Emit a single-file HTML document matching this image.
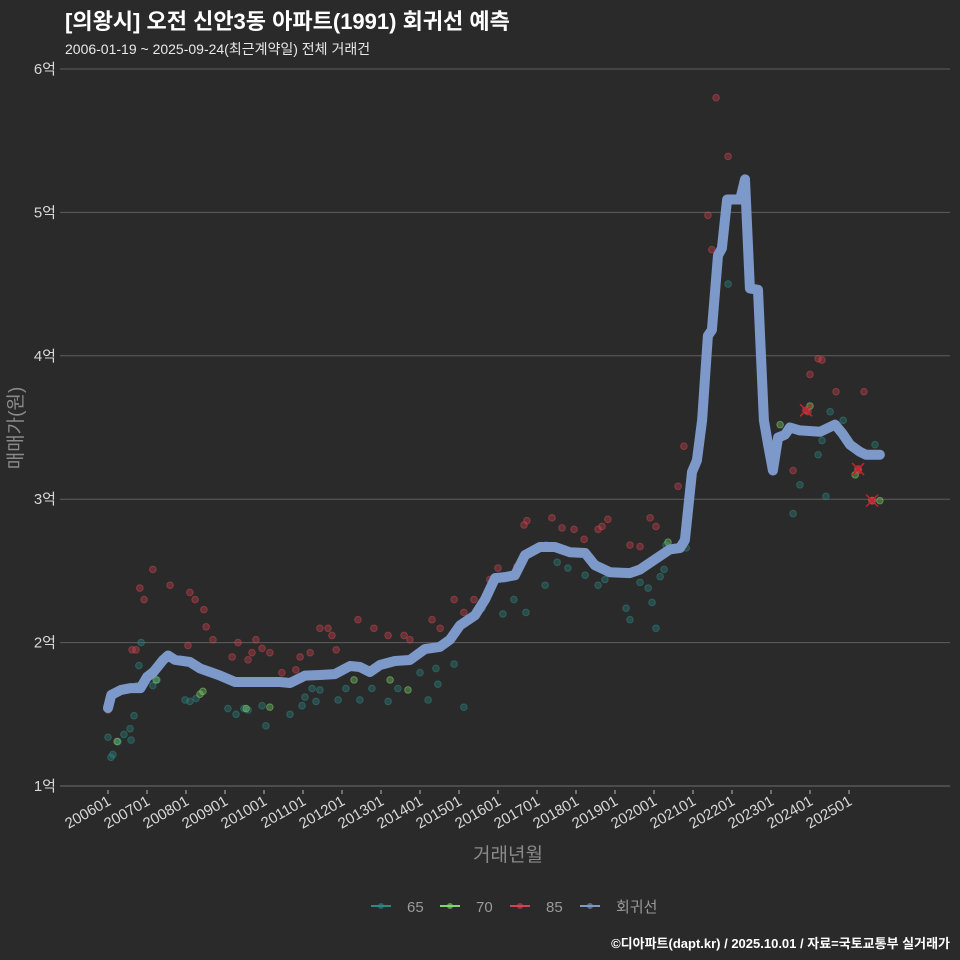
<!DOCTYPE html>
<html><head><meta charset="utf-8"><style>
html,body{margin:0;padding:0;background:#2b2a2b;}
svg{display:block;font-family:"Liberation Sans","Noto Sans CJK KR",sans-serif;}
</style></head><body>
<svg id="chart" width="960" height="960" viewBox="0 0 960 960">
<rect x="0" y="0" width="960" height="960" fill="#2b2a2b"/>
<text x="65" y="29" fill="#ffffff" font-size="22" font-weight="bold">[의왕시] 오전 신안3동 아파트(1991) 회귀선 예측</text>
<text x="65" y="54" fill="#e8e8e8" font-size="14">2006-01-19 ~ 2025-09-24(최근계약일) 전체 거래건</text>
<g id="grid"></g>
<g id="marks"></g>
<text x="22" y="428" fill="#8a8a8a" font-size="19" text-anchor="middle" transform="rotate(-90 22 428)">매매가(원)</text>
<text x="508" y="861" fill="#8a8a8a" font-size="19" text-anchor="middle">거래년월</text>
<g id="legend"></g>
<text x="950" y="948" fill="#ffffff" font-size="13" font-weight="bold" text-anchor="end">©디아파트(dapt.kr) / 2025.10.01 / 자료=국토교통부 실거래가</text>
</svg>
<script>
// months since 2006-01, values in 억
const yTicks = [1,2,3,4,5,6];
const xTickLabels = ["200601","200701","200801","200901","201001","201101","201201","201301","201401","201501","201601","201701","201801","201901","202001","202101","202201","202301","202401","202501"];
const lineMonths = [0,1,4,7,10,12,14,17,18.5,20.6,25.2,28.3,31.4,34.5,39.1,43.7,48.3,52.9,56,60.6,65.2,69.8,74.5,77.5,80.6,83.7,88.3,92.9,97.5,102.1,105.2,108.3,112.9,116,119.1,122.2,125.2,128.3,132.9,137.5,142.2,146.8,149.8,154.5,160.6,163.7,168.3,172.9,176,177.5,179.7,181.2,182.8,184.6,185.8,187.7,188.9,190.5,194.5,196,197.5,200,201.8,203.1,204.6,206.2,208.3,209.8,212.9,219.1,223.7,225.9,228.3,231.4,233.2,237.5];
const lineValues = [1.544,1.635,1.67,1.683,1.683,1.76,1.795,1.88,1.91,1.88,1.865,1.82,1.795,1.77,1.725,1.725,1.725,1.725,1.718,1.77,1.774,1.78,1.837,1.83,1.795,1.844,1.872,1.879,1.955,1.97,2.02,2.12,2.19,2.30,2.45,2.457,2.47,2.61,2.667,2.667,2.63,2.625,2.54,2.49,2.485,2.51,2.58,2.65,2.66,2.715,3.19,3.27,3.55,4.14,4.18,4.70,4.75,5.09,5.09,5.23,4.47,4.46,3.55,3.38,3.20,3.43,3.45,3.50,3.48,3.47,3.52,3.46,3.38,3.33,3.31,3.31];
const s65Months = [0,0.9,1.5,3.1,4.9,6.8,7.1,8,8.9,9.5,10.2,13.8,15.1,23.7,25.2,27.1,36.9,39.4,41.8,43.1,47.4,48.6,56,59.7,60.6,62.8,64,65.2,70.8,73.2,77.5,81.2,86.2,89.2,96,98.5,100.9,101.5,106.5,109.5,115.1,121.5,124.9,128.6,134.5,138.2,141.5,146.8,150.8,152.9,159.4,160.6,163.7,166.2,167.4,168.6,169.9,171.1,171.7,177.9,190.8,210.8,212.9,218.5,219.7,220.9,222.2,226.2,236];
const s65Values = [1.34,1.20,1.22,1.31,1.36,1.40,1.32,1.49,1.70,1.84,2.00,1.70,1.74,1.60,1.59,1.61,1.54,1.50,1.54,1.53,1.56,1.42,1.50,1.56,1.62,1.68,1.59,1.67,1.60,1.68,1.60,1.68,1.59,1.68,1.79,1.60,1.82,1.71,1.85,1.55,2.24,2.20,2.30,2.21,2.40,2.56,2.52,2.47,2.40,2.44,2.24,2.16,2.42,2.38,2.28,2.10,2.46,2.51,2.68,2.66,4.50,2.90,3.10,3.31,3.41,3.02,3.61,3.55,3.38];
const s70Months = [2.8,14.8,28.3,29.2,42.5,49.8,75.7,86.8,92.3,172.3,206.8,216,229.9,237.5];
const s70Values = [1.31,1.74,1.64,1.66,1.54,1.55,1.74,1.74,1.67,2.70,3.52,3.65,3.17,2.99];
const s85Months = [0,7.4,8.6,9.8,11.1,13.8,19.1,25.2,26.8,29.5,30.2,24.6,32.3,38.2,40,43.1,44.3,45.5,47.4,49.8,53.5,57.8,59.1,62.2,65.2,67.7,68.9,70.2,76.9,81.8,86.2,91.1,92.9,99.7,102.2,106.5,109.5,112.6,117.5,120,125.8,128,128.9,134.8,136.6,139.7,143.4,146.5,150.8,152,153.8,160.6,163.7,166.8,168.6,175.4,177.2,184.6,185.8,187.1,190.8,210.8,215.4,216,218.5,219.7,224,232.6,230.8,235.1];
const s85Values = [1.53,1.95,1.95,2.38,2.30,2.51,2.40,2.35,2.30,2.23,2.11,1.98,2.02,1.90,2.00,1.88,1.93,2.02,1.96,1.93,1.79,1.81,1.90,1.93,2.10,2.10,2.05,1.95,2.16,2.10,2.05,2.05,2.02,2.16,2.10,2.30,2.21,2.30,2.44,2.52,2.53,2.82,2.85,2.68,2.87,2.80,2.79,2.72,2.79,2.81,2.86,2.68,2.67,2.87,2.81,3.09,3.37,4.98,4.74,5.80,5.39,3.20,3.61,3.87,3.98,3.97,3.75,3.75,3.20,2.99];
const recentMonths = [214.8,230.8,235.1];
const recentValues = [3.62,3.21,2.99];

const NS = "http://www.w3.org/2000/svg";
const X0 = 108, PX_PER_MONTH = 39/12;
const Y1 = 786, PX_PER_UNIT = 143.4;
function xs(m){ return X0 + m*PX_PER_MONTH; }
function ys(v){ return Y1 - (v-1)*PX_PER_UNIT; }
function mk(tag, attrs, parent){ const e=document.createElementNS(NS,tag); for(const k in attrs) e.setAttribute(k, attrs[k]); parent.appendChild(e); return e; }

const grid = document.getElementById('grid');
yTicks.forEach(v=>{
  const y = ys(v);
  const gl = mk('line',{x1:60,x2:950,y1:y,y2:y,stroke:v===1?'#6e6e6e':'#5e5e5e','stroke-width':1},grid);
  
  
  const t = mk('text',{x:56,y:y+5,fill:'#d8d8d8','font-size':15,'text-anchor':'end'},grid);
  t.textContent = v+'억';
  
  
});
xTickLabels.forEach((lab,i)=>{
  const x = xs(i*12);
  const tk = mk('line',{x1:x,x2:x,y1:790,y2:794,stroke:'#bbbbbb','stroke-width':1},grid);
  
  
  const t = mk('text',{x:x+4,y:804,fill:'#d8d8d8','font-size':15,'text-anchor':'end',transform:`rotate(-30 ${x+4} 804)`},grid);
  t.textContent = lab;
  
  
});

const marks = document.getElementById('marks');
function scatter(ms, vs, color, name){
  const g = mk('g',{},marks);
  
  
  ms.forEach((m,i)=>{
    const c = mk('circle',{cx:xs(m),cy:ys(vs[i]),r:3.3,fill:color,'fill-opacity':0.35,stroke:color,'stroke-opacity':0.5,'stroke-width':1},g);
    
    
  });
}
scatter(s65Months,s65Values,'#2a8a84','series-65');
scatter(s70Months,s70Values,'#7fd86a','series-70');
scatter(s85Months,s85Values,'#d0464e','series-85');

const path = lineMonths.map((m,i)=>(i?'L':'M')+xs(m).toFixed(1)+' '+ys(lineValues[i]).toFixed(1)).join(' ');
const ln = mk('path',{d:path,fill:'none',stroke:'#7c99c9','stroke-width':10,'stroke-linejoin':'round','stroke-linecap':'round'},marks);



recentMonths.forEach((m,i)=>{
  const x=xs(m), y=ys(recentValues[i]);
  const g = mk('g',{},marks);
  
  
  mk('circle',{cx:x,cy:y,r:4,fill:'#d0464e','fill-opacity':0.6},g);
  mk('path',{d:`M${x-6} ${y-6}L${x+6} ${y+6}M${x-6} ${y+6}L${x+6} ${y-6}`,stroke:'#c8222a','stroke-width':1.5},g);
});

const legend = document.getElementById('legend');
const legItems = [["65","#2a8a84",371],["70","#7fd86a",440],["85","#d0464e",510],["회귀선","#7c99c9",580]];
legItems.forEach(it=>{
  const g = mk('g',{},legend);
  
  
  mk('line',{x1:it[2],x2:it[2]+20,y1:906,y2:906,stroke:it[1],'stroke-width':2},g);
  mk('circle',{cx:it[2]+10,cy:906,r:3,fill:it[1],'fill-opacity':0.6},g);
  const t = mk('text',{x:it[2]+36,y:912,fill:'#999999','font-size':15},g);
  t.textContent = it[0];
});
</script>
</body></html>
